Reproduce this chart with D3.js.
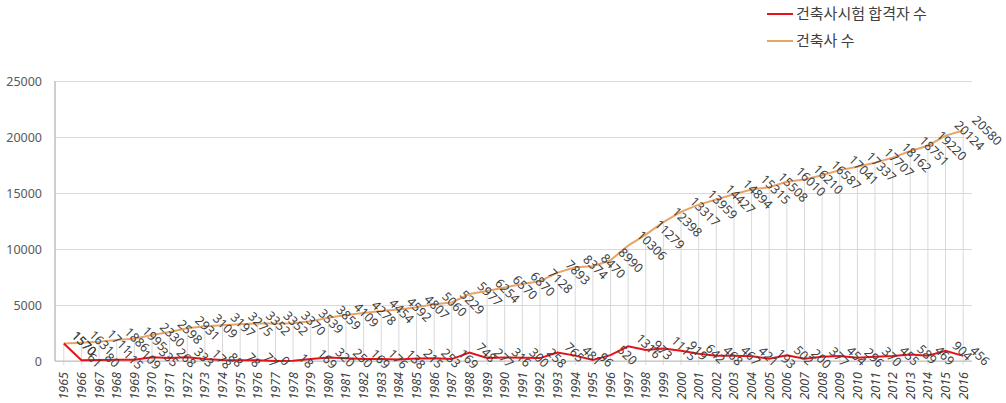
<!DOCTYPE html>
<html>
<head>
<meta charset="utf-8">
<script src="https://cdn.jsdelivr.net/npm/d3@7"></script>
<style>
  body { margin: 0; background: #fff; }
  svg { display: block; font-family: "Noto Sans CJK KR", "Noto Sans", sans-serif; }
</style>
</head>
<body>
<div id="main"></div>
<script>
// categories
const years = ["1965","1966","1967","1968","1969","1970","1971","1972","1973","1974",
  "1975","1976","1977","1978","1979","1980","1981","1982","1983","1984",
  "1985","1986","1987","1988","1989","1990","1991","1992","1993","1994",
  "1995","1996","1997","1998","1999","2000","2001","2002","2003","2004",
  "2005","2006","2007","2008","2009","2010","2011","2012","2013","2014",
  "2015","2016"];

// 건축사시험 합격자 수
const passers = [1570, 61, 80, 115, 109, 335, 268, 333, 178, 88,
  78, 77, 0, 18, 169, 320, 250, 169, 176, 138,
  215, 253, 169, 748, 277, 316, 300, 258, 765, 481,
  96, 520, 1316, 973, 1115, 919, 642, 468, 467, 421,
  193, 502, 200, 377, 454, 296, 370, 455, 589, 469,
  904, 456];

// 건축사 수
const architects = [1570, 1631, 1711, 1886, 1995, 2330, 2598, 2931, 3109, 3197,
  3275, 3352, 3352, 3370, 3539, 3859, 4109, 4278, 4454, 4592,
  4807, 5060, 5229, 5977, 6254, 6570, 6870, 7128, 7893, 8374,
  8470, 8990, 10306, 11279, 12398, 13317, 13959, 14427, 14894, 15315,
  15508, 16010, 16210, 16587, 17041, 17337, 17707, 18162, 18751, 19220,
  20124, 20580];

const yTicks = [0, 5000, 10000, 15000, 20000, 25000];
const seriesNames = ["건축사시험 합격자 수", "건축사 수"];
const seriesColors = ["#e3121b", "#e8a466"];

const svgWidth = 1006, svgHeight = 403;
const plot = { left: 55, right: 972, top: 81, bottom: 361 };

const svg = d3.select("div#main").append("svg")
  .attr("width", svgWidth)
  .attr("height", svgHeight);

const x = d3.scaleBand().domain(years).range([plot.left, plot.right]);
const cx = d => x(d) + x.bandwidth() / 2;
const y = d3.scaleLinear().domain([0, 25000]).range([plot.bottom, plot.top]);

//Horizontal gridlines + y labels.
const yAxis = svg.append("g")
  .attr("transform", "translate(" + plot.left + ",0)")
  .call(d3.axisLeft(y).tickValues(yTicks).tickFormat(d3.format("d"))
    .tickSize(-(plot.right - plot.left)).tickPadding(13));
yAxis.select(".domain").remove();
yAxis.selectAll(".tick line").attr("stroke", "#d9d9d9");
yAxis.selectAll(".tick text")
  .attr("fill", "#595959")
  .style("font-size", "12.5px")
  .style("font-family", "'Noto Sans', sans-serif");

//Drop lines from the 건축사 수 series.
svg.append("g").selectAll("line").data(years)
  .enter().append("line")
  .attr("x1", d => cx(d))
  .attr("x2", d => cx(d))
  .attr("y1", (d, i) => y(architects[i]))
  .attr("y2", plot.bottom + 4)
  .attr("stroke", "#d9d9d9")
  .attr("stroke-width", 1);

//Axis lines.
svg.append("line")
  .attr("x1", plot.left).attr("x2", plot.left)
  .attr("y1", plot.top).attr("y2", plot.bottom)
  .attr("stroke", "#bfbfbf").attr("stroke-width", 1.5);
svg.append("line")
  .attr("x1", plot.left).attr("x2", plot.right)
  .attr("y1", plot.bottom).attr("y2", plot.bottom)
  .attr("stroke", "#bfbfbf").attr("stroke-width", 1);

//Year labels.
svg.append("g").selectAll("text").data(years)
  .enter().append("text")
  .attr("transform", d => "translate(" + (cx(d) + 4.5) + "," + (plot.bottom + 11) + ") rotate(-90)")
  .attr("text-anchor", "end")
  .attr("fill", "#404040")
  .style("font-size", "12.5px")
  .style("font-style", "italic")
  .style("font-family", "'Noto Sans', sans-serif")
  .text(d => d);

//Series lines.
const line = d3.line()
  .x((d, i) => cx(years[i]))
  .y(d => y(d));
svg.append("path")
  .datum(architects)
  .attr("d", line)
  .attr("fill", "none")
  .attr("stroke", seriesColors[1])
  .attr("stroke-width", 2);
svg.append("path")
  .datum(passers)
  .attr("d", line)
  .attr("fill", "none")
  .attr("stroke", seriesColors[0])
  .attr("stroke-width", 2);

//Data labels: rotated 45 degrees, sitting right of each point.
const addLabels = function (values) {
  const g = svg.append("g");
  values.forEach(function (v, i) {
    const t = g.append("text")
      .attr("text-anchor", "middle")
      .attr("dy", "0.35em")
      .attr("fill", "#404040")
      .style("font-size", "12.5px")
      .style("font-family", "'Noto Sans', sans-serif")
      .text(v);
    const w = t.node().getComputedTextLength();
    const lx = cx(years[i]) + 6 + w * 0.5;
    const ly = y(v);
    t.attr("transform", "translate(" + lx + "," + ly + ") rotate(45)");
  });
};
addLabels(passers);
addLabels(architects);

//Legend.
const legend = svg.append("g").selectAll("g").data(seriesNames)
  .enter().append("g")
  .attr("transform", (d, i) => "translate(767," + (14 + i * 27) + ")");
legend.append("line")
  .attr("x1", 0).attr("x2", 26)
  .attr("stroke", (d, i) => seriesColors[i])
  .attr("stroke-width", 2);
legend.append("text")
  .attr("x", 29)
  .attr("dy", "0.35em")
  .attr("fill", "#404040")
  .style("font-size", "15px")
  .text(d => d);
</script>
</body>
</html>
